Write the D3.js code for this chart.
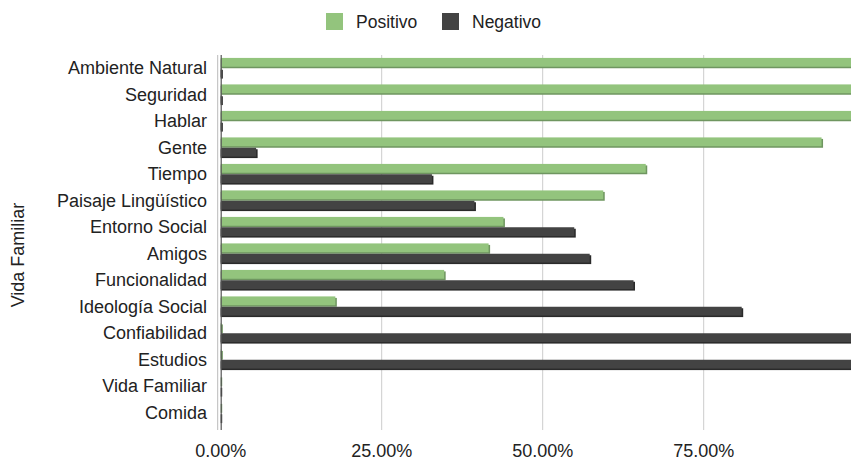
<!DOCTYPE html>
<html>
<head>
<meta charset="utf-8">
<script src="https://cdn.jsdelivr.net/npm/d3@7"></script>
<style>
  html, body { margin: 0; padding: 0; background: #fff; overflow: hidden; }
  svg { display: block; font-family: "Liberation Sans", Arial, sans-serif; }
</style>
</head>
<body>
<svg id="chart" width="851" height="460"></svg>
<script>
const categories = ["Ambiente Natural","Seguridad","Hablar","Gente","Tiempo","Paisaje Lingüístico","Entorno Social","Amigos","Funcionalidad","Ideología Social","Confiabilidad","Estudios","Vida Familiar","Comida"];
const seriesNames = ["Positivo","Negativo"];
const positivo = [1.00, 1.00, 1.00, 0.933, 0.660, 0.594, 0.439, 0.416, 0.347, 0.178, 0.001, 0.001, 0, 0];
const negativo = [0.001, 0.001, 0.001, 0.055, 0.328, 0.394, 0.549, 0.573, 0.641, 0.809, 1.00, 1.00, 0, 0];
const xTicks = [0, 0.25, 0.5, 0.75, 1.0];
const xTickLabels = ["0.00%", "25.00%", "50.00%", "75.00%"];
const yAxisTitle = "Vida Familiar";

const colors = { Positivo: "#93c47d", Negativo: "#434343" };
const shadows = { Positivo: "#6f9660", Negativo: "#2a2a2a" };

const svg = d3.select("#chart");
const x = d3.scaleLinear().domain([0, 1]).range([220.7, 864.7]);
const y = d3.scaleBand().domain(categories).range([55, 426]).paddingInner(0.22).paddingOuter(0.11);
const ySub = d3.scaleBand().domain(seriesNames).range([0, y.bandwidth()]).paddingInner(0);

// gridlines
svg.append("g").selectAll("line").data(xTicks).join("line")
  .attr("x1", d => x(d)).attr("x2", d => x(d))
  .attr("y1", 55).attr("y2", 430)
  .attr("stroke", d => d === 0 ? "#bbbbbb" : "#cccccc").attr("stroke-width", 1)
  .attr("transform", d => d === 0 ? "translate(-3,0)" : null);

// bars
const rows = categories.map((c, i) => ({ cat: c, vals: [
  { s: "Positivo", v: positivo[i] }, { s: "Negativo", v: negativo[i] } ] }));
const g = svg.append("g");
const sh = 1.5;
rows.forEach(r => {
  r.vals.forEach(d => {
    const y0 = y(r.cat) + ySub(d.s);
    const h = ySub.bandwidth() - sh;
    const w = x(d.v) - x(0);
    g.append("rect").attr("x", x(0)).attr("y", y0 + sh)
      .attr("width", w + sh).attr("height", h).attr("fill", shadows[d.s]);
    g.append("rect").attr("x", x(0)).attr("y", y0)
      .attr("width", w).attr("height", h).attr("fill", colors[d.s]);
  });
});

// zero line
svg.append("line").attr("x1", x(0) + 0.5).attr("x2", x(0) + 0.5)
  .attr("y1", 55).attr("y2", 430).attr("stroke", "#555").attr("stroke-width", 1.2);

// x axis labels (the 100% label falls outside the picture)
svg.append("g").selectAll("text").data(xTickLabels).join("text")
  .attr("x", (d, i) => x(xTicks[i])).attr("y", 457)
  .attr("text-anchor", "middle").attr("font-size", 18).attr("fill", "#222")
  .text(d => d);

// y category labels
svg.append("g").selectAll("text").data(categories).join("text")
  .attr("x", 207).attr("y", d => y(d) + y.bandwidth() / 2 + 6)
  .attr("text-anchor", "end").attr("font-size", 18).attr("fill", "#222")
  .text(d => d);

// y axis title
svg.append("text").attr("transform", "translate(24,255) rotate(-90)")
  .attr("text-anchor", "middle").attr("font-size", 18).attr("fill", "#222")
  .text(yAxisTitle);

// legend
const legX = [326, 442];
const leg = svg.append("g");
seriesNames.forEach((s, i) => {
  leg.append("rect").attr("x", legX[i]).attr("y", 13).attr("width", 17).attr("height", 17)
    .attr("fill", colors[s]);
  leg.append("text").attr("x", legX[i] + 30).attr("y", 27.5)
    .attr("font-size", 17.5).attr("fill", "#222").text(s);
});
</script>
</body>
</html>
